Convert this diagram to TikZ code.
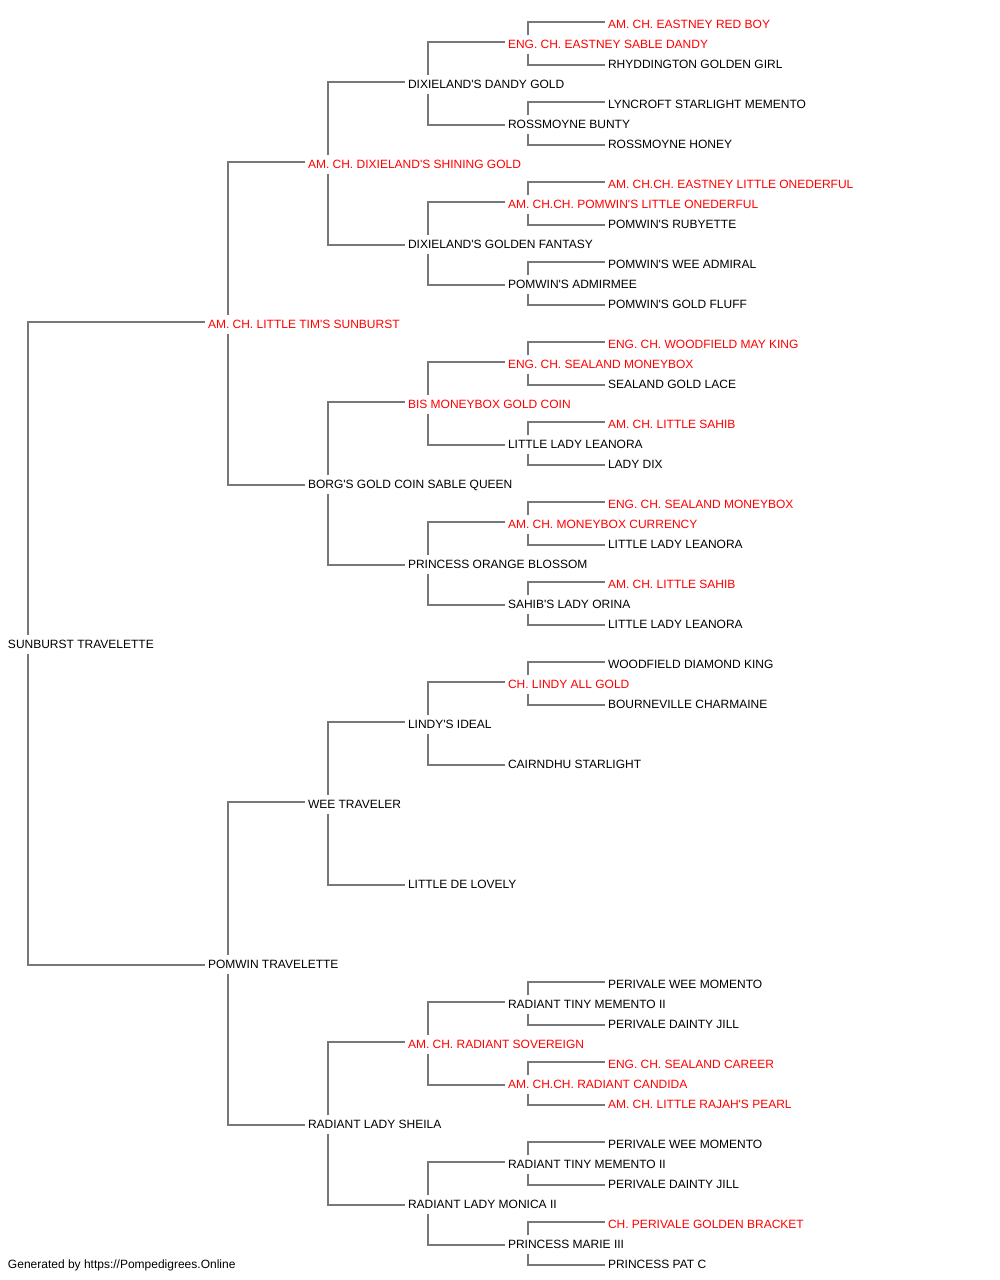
\documentclass[tikz,border=0pt]{standalone}
\usepackage{fontspec}
\setmainfont{Liberation Sans}
\newcommand\ap{\textquotesingle}
\definecolor{lncol}{RGB}{119,119,119}
\definecolor{redn}{RGB}{255,0,0}
\tikzset{
  pn/.style={inner sep=0pt, outer sep=0pt, text height=13.8pt, text depth=5.2pt, anchor=base west, font=\fontsize{12}{14}\selectfont},
  conn/.style={draw=lncol, line width=1.3pt},
}
\newcommand\pers[5]{\node[pn,text=#4] (#1) at (#2,#3+4.3) {#5};}
\newcommand\upc[2]{\draw[conn] ([xshift=-3pt,yshift=2pt]#2.west) -| ([xshift=20pt]#1.north west);}
\newcommand\dnc[2]{\draw[conn] ([xshift=-3pt,yshift=-1pt]#2.west) -| ([xshift=20pt]#1.south west);}
\begin{document}
\begin{tikzpicture}[x=1pt,y=-1pt]
\useasboundingbox (0,0) rectangle (1000,1280);
% level 0
\pers{r}{8}{644}{black}{SUNBURST TRAVELETTE}
% level 1
\pers{r1}{208}{324}{redn}{AM. CH. LITTLE TIM\ap S SUNBURST}
\pers{r2}{208}{964}{black}{POMWIN TRAVELETTE}
% level 2
\pers{r11}{308}{164}{redn}{AM. CH. DIXIELAND\ap S SHINING GOLD}
\pers{r12}{308}{484}{black}{BORG\ap S GOLD COIN SABLE QUEEN}
\pers{r21}{308}{804}{black}{WEE TRAVELER}
\pers{r22}{308}{1124}{black}{RADIANT LADY SHEILA}
% level 3
\pers{r111}{408}{84}{black}{DIXIELAND\ap S DANDY GOLD}
\pers{r112}{408}{244}{black}{DIXIELAND\ap S GOLDEN FANTASY}
\pers{r121}{408}{404}{redn}{BIS MONEYBOX GOLD COIN}
\pers{r122}{408}{564}{black}{PRINCESS ORANGE BLOSSOM}
\pers{r211}{408}{724}{black}{LINDY\ap S IDEAL}
\pers{r212}{408}{884}{black}{LITTLE DE LOVELY}
\pers{r221}{408}{1044}{redn}{AM. CH. RADIANT SOVEREIGN}
\pers{r222}{408}{1204}{black}{RADIANT LADY MONICA II}
% level 4
\pers{r1111}{508}{44}{redn}{ENG. CH. EASTNEY SABLE DANDY}
\pers{r1112}{508}{124}{black}{ROSSMOYNE BUNTY}
\pers{r1121}{508}{204}{redn}{AM. CH.CH. POMWIN\ap S LITTLE ONEDERFUL}
\pers{r1122}{508}{284}{black}{POMWIN\ap S ADMIRMEE}
\pers{r1211}{508}{364}{redn}{ENG. CH. SEALAND MONEYBOX}
\pers{r1212}{508}{444}{black}{LITTLE LADY LEANORA}
\pers{r1221}{508}{524}{redn}{AM. CH. MONEYBOX CURRENCY}
\pers{r1222}{508}{604}{black}{SAHIB\ap S LADY ORINA}
\pers{r2111}{508}{684}{redn}{CH. LINDY ALL GOLD}
\pers{r2112}{508}{764}{black}{CAIRNDHU STARLIGHT}
\pers{r2211}{508}{1004}{black}{RADIANT TINY MEMENTO II}
\pers{r2212}{508}{1084}{redn}{AM. CH.CH. RADIANT CANDIDA}
\pers{r2221}{508}{1164}{black}{RADIANT TINY MEMENTO II}
\pers{r2222}{508}{1244}{black}{PRINCESS MARIE III}
% level 5
\pers{r11111}{608}{24}{redn}{AM. CH. EASTNEY RED BOY}
\pers{r11112}{608}{64}{black}{RHYDDINGTON GOLDEN GIRL}
\pers{r11121}{608}{104}{black}{LYNCROFT STARLIGHT MEMENTO}
\pers{r11122}{608}{144}{black}{ROSSMOYNE HONEY}
\pers{r11211}{608}{184}{redn}{AM. CH.CH. EASTNEY LITTLE ONEDERFUL}
\pers{r11212}{608}{224}{black}{POMWIN\ap S RUBYETTE}
\pers{r11221}{608}{264}{black}{POMWIN\ap S WEE ADMIRAL}
\pers{r11222}{608}{304}{black}{POMWIN\ap S GOLD FLUFF}
\pers{r12111}{608}{344}{redn}{ENG. CH. WOODFIELD MAY KING}
\pers{r12112}{608}{384}{black}{SEALAND GOLD LACE}
\pers{r12121}{608}{424}{redn}{AM. CH. LITTLE SAHIB}
\pers{r12122}{608}{464}{black}{LADY DIX}
\pers{r12211}{608}{504}{redn}{ENG. CH. SEALAND MONEYBOX}
\pers{r12212}{608}{544}{black}{LITTLE LADY LEANORA}
\pers{r12221}{608}{584}{redn}{AM. CH. LITTLE SAHIB}
\pers{r12222}{608}{624}{black}{LITTLE LADY LEANORA}
\pers{r21111}{608}{664}{black}{WOODFIELD DIAMOND KING}
\pers{r21112}{608}{704}{black}{BOURNEVILLE CHARMAINE}
\pers{r22111}{608}{984}{black}{PERIVALE WEE MOMENTO}
\pers{r22112}{608}{1024}{black}{PERIVALE DAINTY JILL}
\pers{r22121}{608}{1064}{redn}{ENG. CH. SEALAND CAREER}
\pers{r22122}{608}{1104}{redn}{AM. CH. LITTLE RAJAH\ap S PEARL}
\pers{r22211}{608}{1144}{black}{PERIVALE WEE MOMENTO}
\pers{r22212}{608}{1184}{black}{PERIVALE DAINTY JILL}
\pers{r22221}{608}{1224}{redn}{CH. PERIVALE GOLDEN BRACKET}
\pers{r22222}{608}{1264}{black}{PRINCESS PAT C}
% footer
\node[pn,text=black] (foot) at (8,1264+4.3) {Generated by https://Pompedigrees.Online};
% connectors
\upc{r}{r1}\dnc{r}{r2}
\upc{r1}{r11}\dnc{r1}{r12}
\upc{r2}{r21}\dnc{r2}{r22}
\upc{r11}{r111}\dnc{r11}{r112}
\upc{r12}{r121}\dnc{r12}{r122}
\upc{r21}{r211}\dnc{r21}{r212}
\upc{r22}{r221}\dnc{r22}{r222}
\upc{r111}{r1111}\dnc{r111}{r1112}
\upc{r112}{r1121}\dnc{r112}{r1122}
\upc{r121}{r1211}\dnc{r121}{r1212}
\upc{r122}{r1221}\dnc{r122}{r1222}
\upc{r211}{r2111}\dnc{r211}{r2112}
\upc{r221}{r2211}\dnc{r221}{r2212}
\upc{r222}{r2221}\dnc{r222}{r2222}
\upc{r1111}{r11111}\dnc{r1111}{r11112}
\upc{r1112}{r11121}\dnc{r1112}{r11122}
\upc{r1121}{r11211}\dnc{r1121}{r11212}
\upc{r1122}{r11221}\dnc{r1122}{r11222}
\upc{r1211}{r12111}\dnc{r1211}{r12112}
\upc{r1212}{r12121}\dnc{r1212}{r12122}
\upc{r1221}{r12211}\dnc{r1221}{r12212}
\upc{r1222}{r12221}\dnc{r1222}{r12222}
\upc{r2111}{r21111}\dnc{r2111}{r21112}
\upc{r2211}{r22111}\dnc{r2211}{r22112}
\upc{r2212}{r22121}\dnc{r2212}{r22122}
\upc{r2221}{r22211}\dnc{r2221}{r22212}
\upc{r2222}{r22221}\dnc{r2222}{r22222}
\end{tikzpicture}
\end{document}
